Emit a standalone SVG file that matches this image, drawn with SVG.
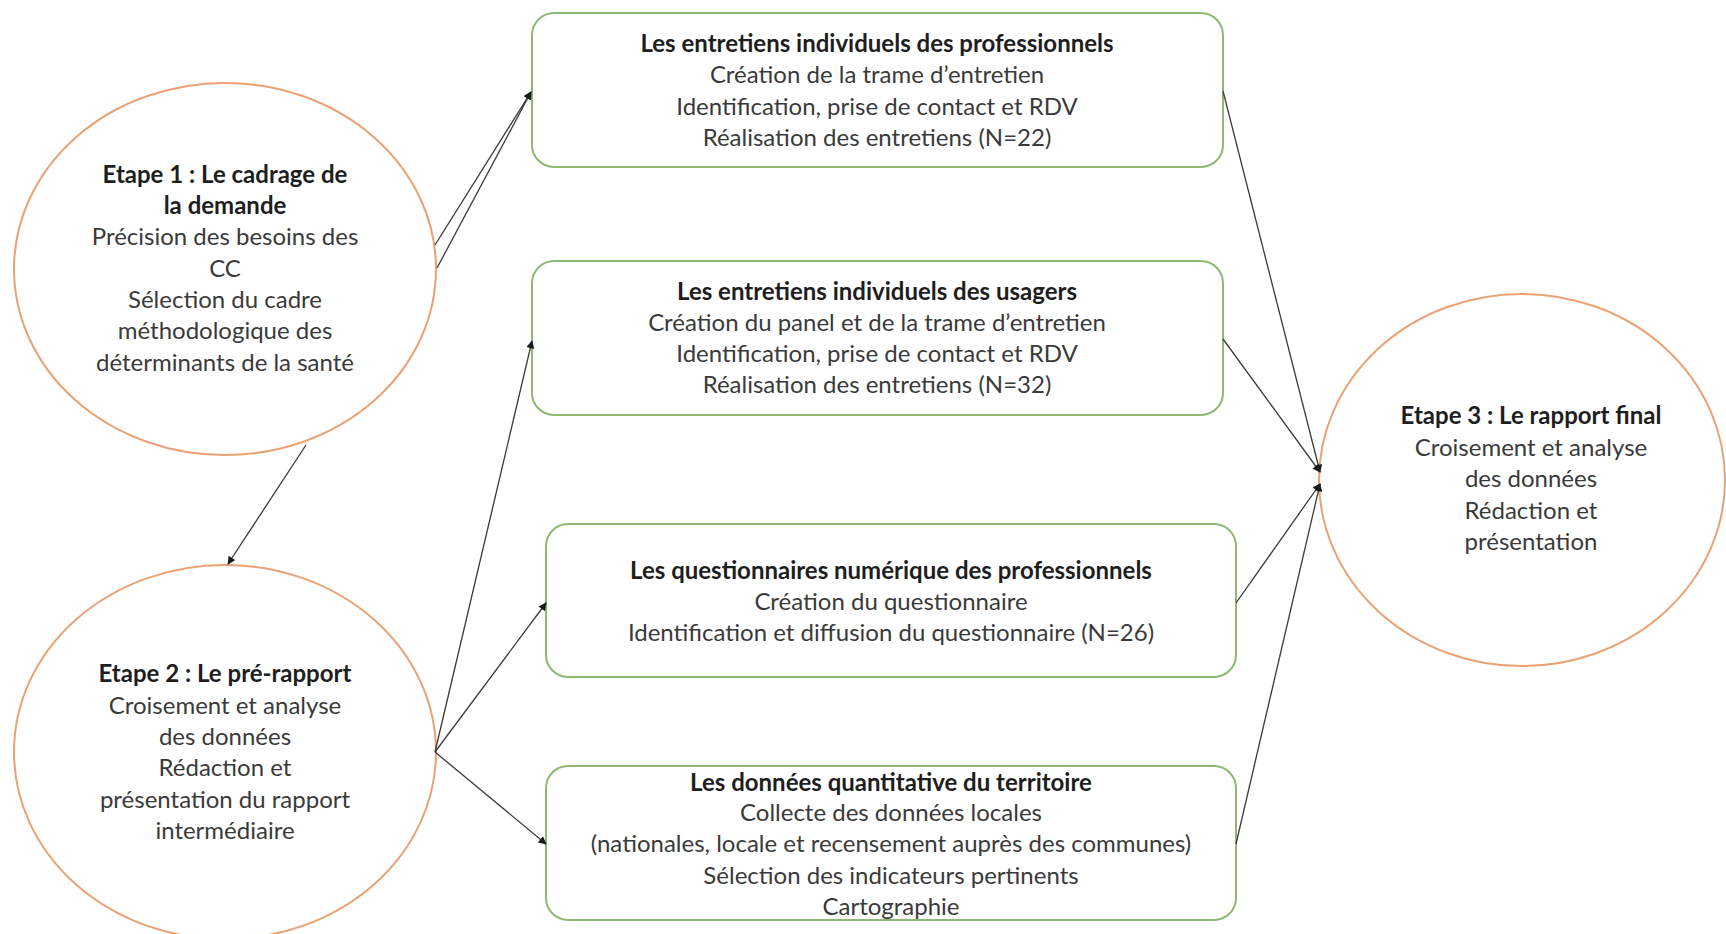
<svg xmlns="http://www.w3.org/2000/svg" width="1726" height="934" viewBox="0 0 1726 934">
<defs>
<marker id="arr" viewBox="0 0 10 10" refX="9" refY="5" markerWidth="9" markerHeight="8" markerUnits="userSpaceOnUse" orient="auto">
<path d="M0,0 L10,5 L0,10 z" fill="#1a1a1a"/>
</marker>
</defs>
<style>
.circ{fill:#ffffff;stroke:#E9A274;stroke-width:2}
.box{fill:#ffffff;stroke:#8FB873;stroke-width:2}
text{font-family:Lato,"Liberation Sans",sans-serif;font-size:24px;fill:#3a3a3a;text-anchor:middle}
.b{font-weight:bold;fill:#1e1e1e}
.con line{stroke:#3a3a3a;stroke-width:1.3;fill:none;marker-end:url(#arr)}
</style>
<rect width="1726" height="934" fill="#ffffff"/>

<g id="etape1">
<ellipse class="circ" cx="225" cy="269" rx="211" ry="186"/>
<text x="225" y="183" class="b">Etape 1 : Le cadrage de</text>
<text x="225" y="214" class="b">la demande</text>
<text x="225" y="245">Précision des besoins des</text>
<text x="225" y="277">CC</text>
<text x="225" y="308">Sélection du cadre</text>
<text x="225" y="339">méthodologique  des</text>
<text x="225" y="371">déterminants  de la santé</text>
</g>

<g id="etape2">
<ellipse class="circ" cx="225" cy="752" rx="211" ry="187"/>
<text x="225" y="682" class="b">Etape 2 : Le pré-rapport</text>
<text x="225" y="714">Croisement  et analyse</text>
<text x="225" y="745">des données</text>
<text x="225" y="776">Rédaction et</text>
<text x="225" y="808">présentation  du rapport</text>
<text x="225" y="839">intermédiaire</text>
</g>

<g id="etape3">
<ellipse class="circ" cx="1522" cy="480" rx="203" ry="186"/>
<text x="1531" y="424" class="b">Etape 3 : Le rapport  final</text>
<text x="1531" y="456">Croisement  et analyse</text>
<text x="1531" y="487">des données</text>
<text x="1531" y="519">Rédaction et</text>
<text x="1531" y="550">présentation</text>
</g>

<g id="box1">
<rect class="box" x="532" y="13" width="691" height="154" rx="22"/>
<text x="877" y="52" class="b">Les entretiens individuels des professionnels</text>
<text x="877" y="83">Création de la trame d’entretien</text>
<text x="877" y="115">Identification, prise de contact et RDV</text>
<text x="877" y="146">Réalisation  des entretiens (N=22)</text>
</g>

<g id="box2">
<rect class="box" x="532" y="261" width="691" height="154" rx="22"/>
<text x="877" y="300" class="b">Les entretiens individuels des usagers</text>
<text x="877" y="331">Création du panel et de la trame d’entretien</text>
<text x="877" y="362">Identification, prise de contact et RDV</text>
<text x="877" y="393">Réalisation  des entretiens (N=32)</text>
</g>

<g id="box3">
<rect class="box" x="546" y="524" width="690" height="153" rx="22"/>
<text x="891" y="579" class="b">Les questionnaires  numérique des professionnels</text>
<text x="891" y="610">Création du questionnaire</text>
<text x="891" y="641">Identification et diffusion du questionnaire  (N=26)</text>
</g>

<g id="box4">
<rect class="box" x="546" y="766" width="690" height="154" rx="22"/>
<text x="891" y="791" class="b">Les données quantitative du territoire</text>
<text x="891" y="821">Collecte des données locales</text>
<text x="891" y="852">(nationales, locale et recensement  auprès des communes)</text>
<text x="891" y="884">Sélection des indicateurs pertinents</text>
<text x="891" y="915">Cartographie</text>
</g>

<g id="connectors" class="con">
<line x1="435" y1="245" x2="531" y2="92"/>
<line x1="437" y1="268" x2="531" y2="92"/>
<line x1="306" y1="445" x2="228" y2="564"/>
<line x1="435" y1="752" x2="532" y2="341"/>
<line x1="435" y1="752" x2="546" y2="603"/>
<line x1="435" y1="752" x2="546" y2="844"/>
<line x1="1223" y1="91" x2="1320" y2="472"/>
<line x1="1223" y1="339" x2="1320" y2="472"/>
<line x1="1236" y1="603" x2="1320" y2="484"/>
<line x1="1236" y1="844" x2="1320" y2="484"/>
</g>
</svg>
